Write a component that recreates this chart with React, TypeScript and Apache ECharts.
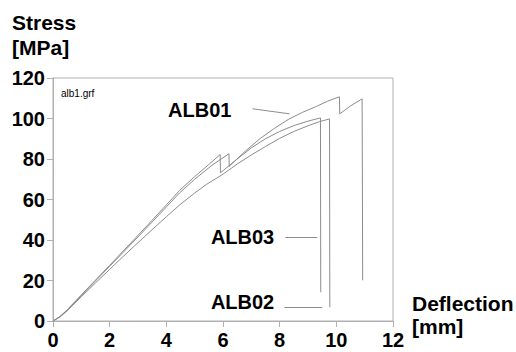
import React, { useEffect, useRef } from "react";
import * as echarts from "echarts";

// Load–deflection records [deflection mm, stress MPa]
const alb01: [number, number][] = [
  [0, 0], [0.25, 2.2], [0.5, 5.3], [1, 12.6], [1.5, 19.8], [2, 27], [3, 41.5], [4, 56.3],
  [4.47, 63.3], [5, 70], [5.6, 76.8], [6.21, 82.6], [6.22, 76.4], [6.8, 84], [7.3, 90],
  [7.8, 95], [8.3, 99.5], [8.8, 103], [9.3, 106], [9.7, 108.6], [10.11, 110.7],
  [10.12, 102.3], [10.5, 106.2], [10.91, 109.7], [10.93, 20.1],
];
const alb02: [number, number][] = [
  [0, 0], [0.25, 2.0], [0.5, 5.0], [1, 12.0], [1.5, 18.8], [2, 25.5], [2.35, 30.2], [3, 38.7],
  [4, 51.5], [4.47, 57.3], [5, 63.2], [5.41, 67.4], [6, 72.5], [6.5, 77.5], [7, 82],
  [7.5, 86.2], [8, 90.2], [8.5, 93.6], [9, 96.4], [9.4, 98.4], [9.76, 99.8], [9.77, 6.8],
];
const alb03: [number, number][] = [
  [0, 0], [0.25, 2.3], [0.5, 5.5], [1, 12.9], [1.5, 20.2], [2, 27.5], [3, 42.3], [4, 57.3],
  [4.47, 64.5], [5, 71.3], [5.5, 77.3], [5.9, 82.2], [5.91, 73.2], [6.5, 80], [7, 85.5],
  [7.5, 90], [8, 93.6], [8.5, 96.5], [9, 98.7], [9.44, 100.3], [9.45, 14.2],
];

// Specimen labels and their leader lines (data coordinates)
const labelNames = ["ALB01", "ALB03", "ALB02"];
const labelPos: [number, number][] = [[5.18, 104.4], [6.69, 41.5], [6.69, 9.3]];
const leaders: [number, number][][] = [
  [[7.04, 104.8], [8.35, 102.3]],
  [[8.2, 41.6], [9.33, 41.6]],
  [[8.17, 7.0], [9.5, 7.0]],
];

const xTicks = { min: 0, max: 12, interval: 2 };
const yTicks = { min: 0, max: 120, interval: 20 };

const FONT = 'Arial, "Liberation Sans", Helvetica, sans-serif';
const CURVE = "#8c8c8c";
const FRAME = "#b0b0b0";

export default function App() {
  const ref = useRef<HTMLDivElement>(null);

  useEffect(() => {
    if (!ref.current) return;
    const chart = echarts.init(ref.current, null, { renderer: "svg" });

    const curve = (name: string, data: [number, number][]) => ({
      name,
      type: "line",
      data,
      showSymbol: false,
      symbol: "none",
      lineStyle: { color: CURVE, width: 1 },
      silent: true,
    });

    const tickLabel = {
      color: "#000",
      fontFamily: FONT,
      fontWeight: "bold",
      fontSize: 20,
    };

    chart.setOption({
      animation: false,
      backgroundColor: "#ffffff",
      grid: {
        left: 53,
        top: 78,
        width: 340,
        height: 243,
        show: true,
        borderColor: FRAME,
        borderWidth: 1,
        containLabel: false,
      },
      xAxis: {
        type: "value",
        ...xTicks,
        axisLine: { show: true, lineStyle: { color: FRAME, width: 1 } },
        axisTick: { show: true, length: 6, inside: false, lineStyle: { color: FRAME } },
        splitLine: { show: false },
        axisLabel: { ...tickLabel, margin: 9 },
      },
      yAxis: {
        type: "value",
        ...yTicks,
        axisLine: { show: true, lineStyle: { color: FRAME, width: 1 } },
        axisTick: { show: true, length: 6, inside: false, lineStyle: { color: FRAME } },
        splitLine: { show: false },
        axisLabel: { ...tickLabel, margin: 8 },
      },
      series: [
        curve("ALB01", alb01),
        curve("ALB02", alb02),
        curve("ALB03", alb03),
        {
          name: "leaders",
          type: "lines",
          coordinateSystem: "cartesian2d",
          polyline: false,
          silent: true,
          data: leaders.map((c) => ({ coords: c })),
          lineStyle: { color: CURVE, width: 1, opacity: 1 },
        },
        {
          name: "labels",
          type: "scatter",
          symbolSize: 1,
          silent: true,
          itemStyle: { color: "#ffffff", opacity: 1 },
          data: labelPos.map((p, i) => ({ value: p, name: labelNames[i] })),
          label: {
            show: true,
            position: "inside",
            formatter: (p: any) => p.name,
            color: "#000000",
            opacity: 1,
            textBorderWidth: 0,
            fontFamily: FONT,
            fontWeight: "bold",
            fontSize: 20,
          },
        },
      ],
      graphic: [
        {
          type: "text",
          left: 12,
          top: 10,
          style: {
            text: "Stress\n[MPa]",
            fill: "#000",
            font: `bold 21px ${FONT}`,
            lineHeight: 25,
          },
        },
        {
          type: "text",
          left: 412,
          top: 292,
          style: {
            text: "Deflection\n[mm]",
            fill: "#000",
            font: `bold 21px ${FONT}`,
            lineHeight: 23,
          },
        },
        {
          type: "text",
          left: 61,
          top: 88,
          style: {
            text: "alb1.grf",
            fill: "#000",
            font: `10px ${FONT}`,
          },
        },
      ],
    });

    return () => chart.dispose();
  }, []);

  return <div ref={ref} style={{ width: 516, height: 352, position: "absolute", left: 0, top: 0 }} />;
}
